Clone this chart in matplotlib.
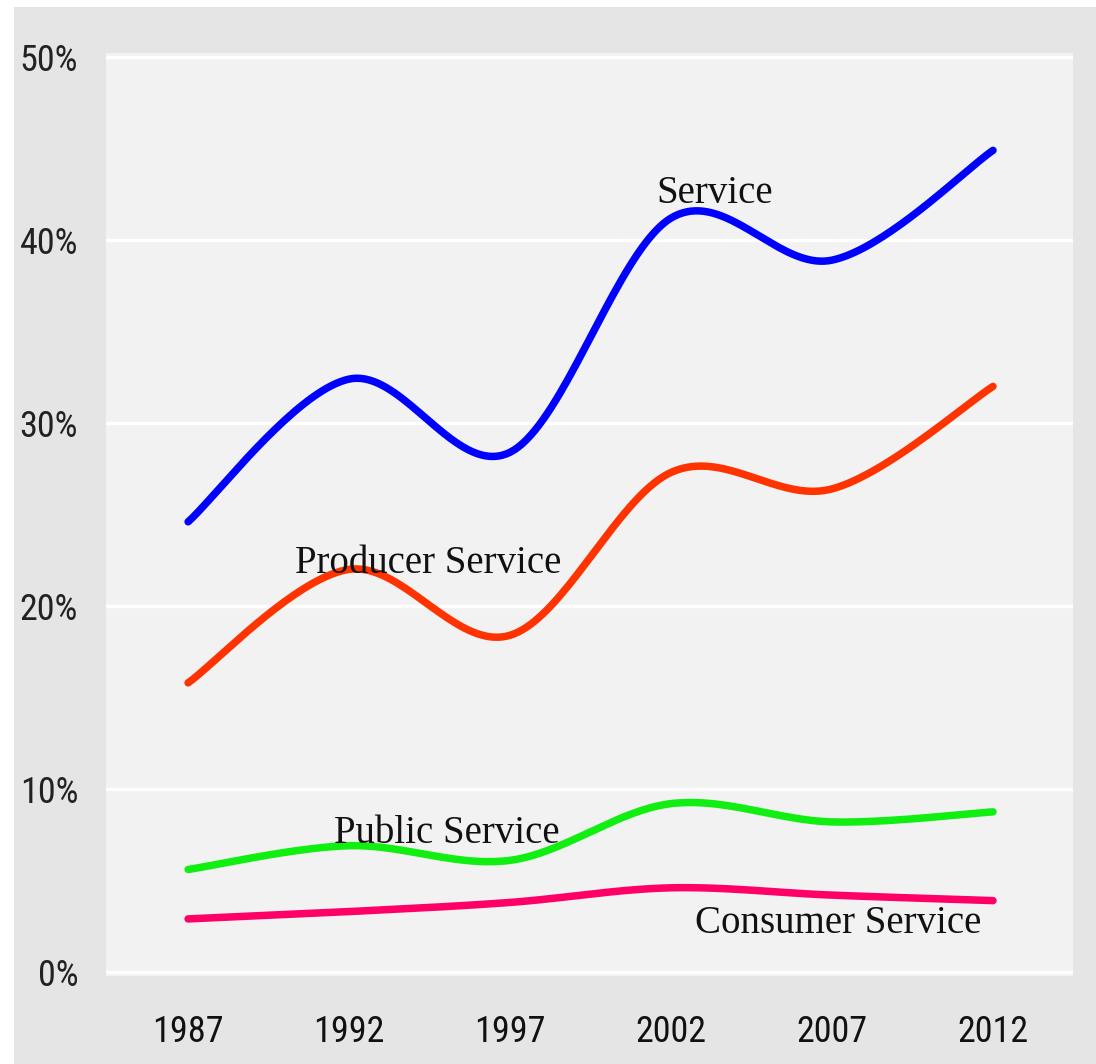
import numpy as np
import matplotlib
matplotlib.use("Agg")
import matplotlib.pyplot as plt
from matplotlib import font_manager
from matplotlib.patches import Rectangle

# data (share of total, %)
years = ["1987", "1992", "1997", "2002", "2007", "2012"]
service = [24.6, 32.4, 28.4, 41.2, 38.9, 44.9]
producer = [15.8, 22.0, 18.4, 27.3, 26.4, 32.0]
public = [5.6, 6.9, 6.1, 9.2, 8.2, 8.75]
consumer = [2.9, 3.3, 3.8, 4.6, 4.2, 3.9]

series = [
    ("Service", service, "#0000ff"),
    ("Producer Service", producer, "#ff3300"),
    ("Public Service", public, "#11ee11"),
    ("Consumer Service", consumer, "#ff0066"),
]
yticks = [0, 10, 20, 30, 40, 50]


def smooth(xs, ys, n=40):
    """Bezier smoothing through the points (like a spreadsheet 'smoothed line')"""
    xs = np.asarray(xs, float)
    ys = np.asarray(ys, float)
    px = np.concatenate([[xs[0]], xs, [xs[-1]]])
    py = np.concatenate([[ys[0]], ys, [ys[-1]]])
    out_x, out_y = [], []
    t = np.linspace(0, 1, n)
    for i in range(1, len(px) - 2):
        x0, x1, x2, x3 = px[i - 1], px[i], px[i + 1], px[i + 2]
        y0, y1, y2, y3 = py[i - 1], py[i], py[i + 1], py[i + 2]
        c1x, c1y = x1 + (x2 - x0) / 6, y1 + (y2 - y0) / 6
        c2x, c2y = x2 - (x3 - x1) / 6, y2 - (y3 - y1) / 6
        bx = (1 - t) ** 3 * x1 + 3 * (1 - t) ** 2 * t * c1x + 3 * (1 - t) * t ** 2 * c2x + t ** 3 * x2
        by = (1 - t) ** 3 * y1 + 3 * (1 - t) ** 2 * t * c1y + 3 * (1 - t) * t ** 2 * c2y + t ** 3 * y2
        out_x.extend(bx)
        out_y.extend(by)
    return np.array(out_x), np.array(out_y)


# pick a narrow sans for the tick labels if one is installed
names = {f.name for f in font_manager.fontManager.ttflist}
narrow = next((n for n in ["Liberation Sans Narrow", "Roboto Condensed", "Open Sans Condensed"] if n in names), None)
if narrow:
    tick_font = dict(family=narrow, size=26)
else:
    tick_font = dict(family="DejaVu Sans", stretch="condensed", size=22)
serif = "Liberation Serif"

W, H = 1096, 1064
fig = plt.figure(figsize=(W / 100, H / 100), dpi=100, facecolor="white")
bg = Rectangle((14 / W, 0), 1, (H - 7) / H, transform=fig.transFigure,
               facecolor="#e5e5e5", edgecolor="none", zorder=-10)
fig.add_artist(bg)

ax = fig.add_axes([106 / W, (H - 976) / H, 967 / W, 923 / H])
ax.set_zorder(1)
ax.set_facecolor("#f2f2f2")
for s in ax.spines.values():
    s.set_visible(False)

x = np.arange(len(years))
for name, vals, color in series:
    sx, sy = smooth(x, vals)
    ax.plot(sx, sy, color=color, linewidth=5.4, solid_capstyle="round", zorder=3)

ax.set_xlim(-0.51, 5.497)
ax.set_ylim(-0.22, 50.22)
ax.set_yticks(yticks)
ax.set_yticklabels([f"{v}%" for v in yticks], **tick_font, color="#222222")
ax.set_xticks(x)
ax.set_xticklabels(years, **tick_font, color="#111111")
ax.tick_params(axis="y", length=0, pad=20)
ax.tick_params(axis="x", length=0, pad=27)
ax.grid(axis="y", color="white", linewidth=2.4)
ax.set_axisbelow(True)

# series labels
label_kw = dict(family=serif, size=28, ha="center", va="baseline", color="#111111", zorder=4)
ax.text(3.27, 42.0, "Service", **label_kw)
ax.text(1.49, 21.8, "Producer Service", **label_kw)
ax.text(1.61, 7.05, "Public Service", **label_kw)
ax.text(4.04, 2.13, "Consumer Service", **label_kw)

fig.savefig("out.png", dpi=100, facecolor=fig.get_facecolor())
